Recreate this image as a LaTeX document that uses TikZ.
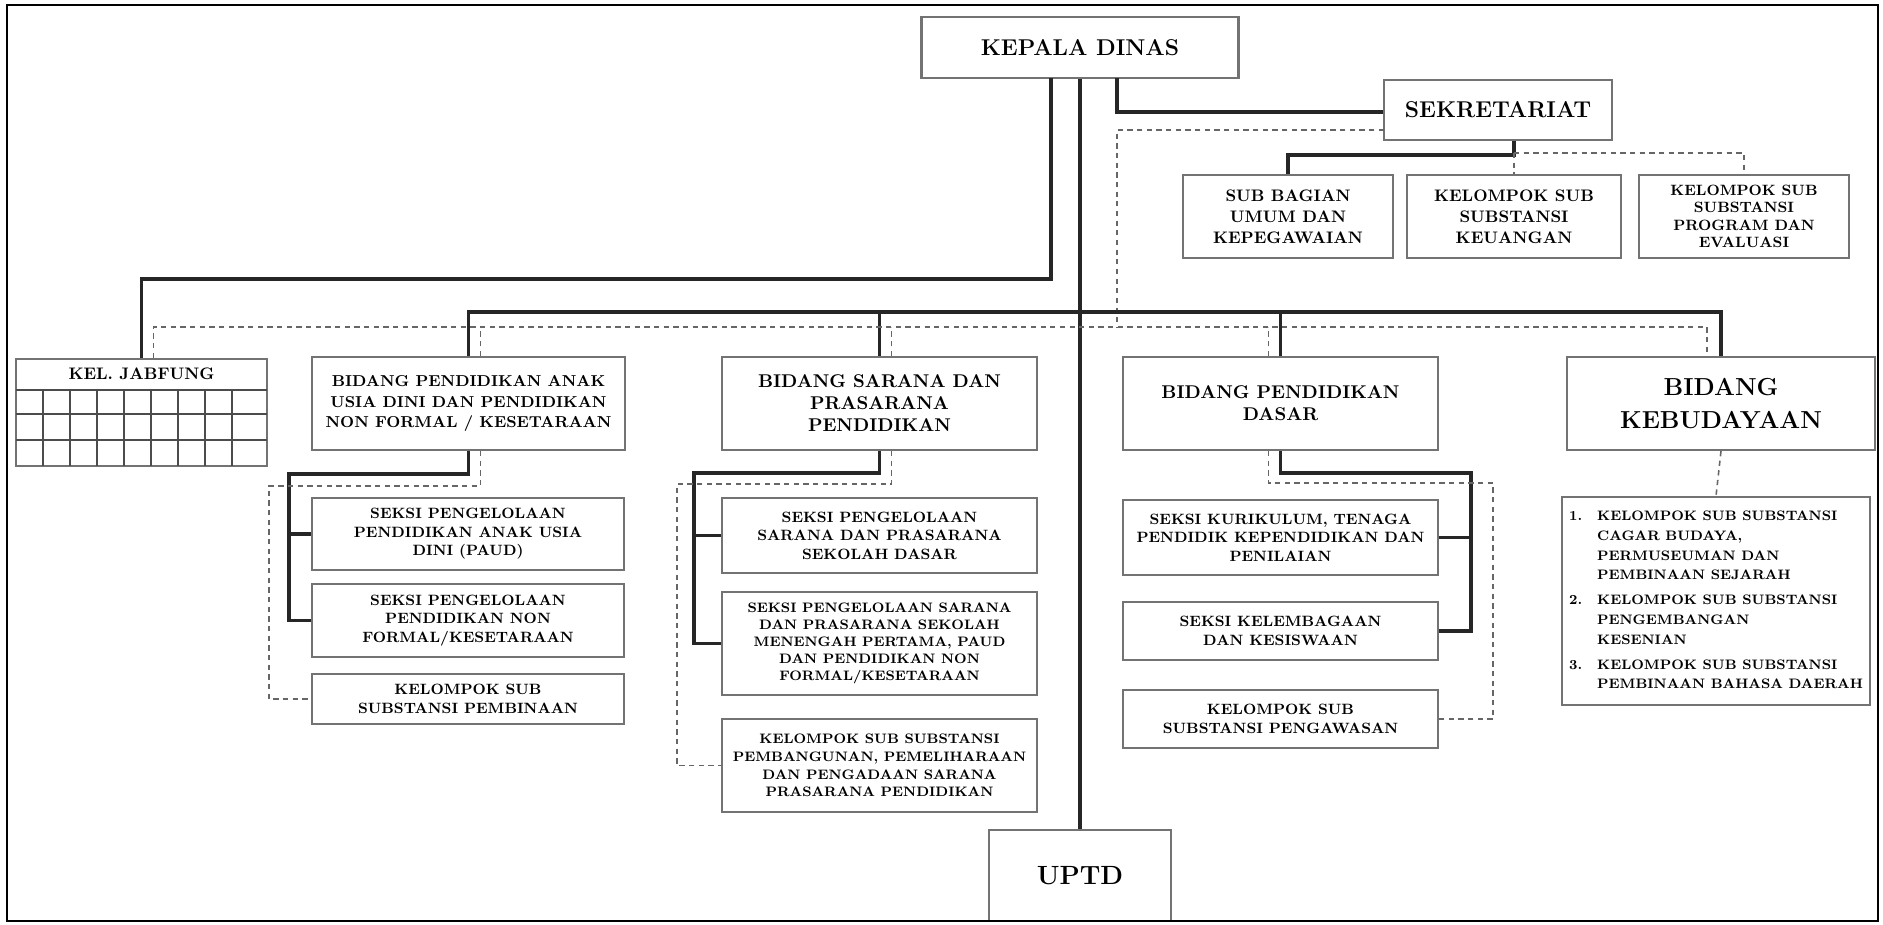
\documentclass[tikz,border=0pt]{standalone}
\usepackage{tikz}
\usetikzlibrary{calc}

\begin{document}
\begin{tikzpicture}[x=0.02cm,y=-0.02cm,
  kotak/.style={draw=black!55,line width=1.2pt,fill=white,inner sep=0pt,align=center,font=\bfseries\fontsize{8.5}{10.5}\selectfont},
  garis/.style={line width=1.8pt,black!85},
  putus/.style={line width=0.9pt,black!60,dash pattern=on 3pt off 2.5pt}]
\useasboundingbox (0,0) rectangle (1883,924);
\node[kotak,minimum width=6.34cm,minimum height=1.22cm,font=\bfseries\fontsize{13}{15}\selectfont] (kd) at (1080,47.5) {KEPALA DINAS};
\node[kotak,minimum width=4.56cm,minimum height=1.2cm,font=\bfseries\fontsize{13}{15}\selectfont] (sek) at (1498,110) {SEKRETARIAT};
\node[kotak,minimum width=4.2cm,minimum height=1.66cm,font=\bfseries\fontsize{9.5}{12}\selectfont] (sub1) at (1288,216.5) {SUB BAGIAN\\UMUM DAN\\KEPEGAWAIAN};
\node[kotak,minimum width=4.28cm,minimum height=1.66cm,font=\bfseries\fontsize{9.5}{12}\selectfont] (sub2) at (1514,216.5) {KELOMPOK SUB\\SUBSTANSI\\KEUANGAN};
\node[kotak,minimum width=4.2cm,minimum height=1.66cm,font=\bfseries\fontsize{8.5}{10}\selectfont] (sub3) at (1744,216.5) {KELOMPOK SUB\\SUBSTANSI\\PROGRAM DAN\\EVALUASI};
\node[kotak,minimum width=5.02cm,minimum height=2.14cm] (jabfung) at (141.5,412.5) {};
\node[font=\bfseries\fontsize{9.5}{11}\selectfont] (jabfungjudul) at (141.5,374) {KEL. JABFUNG};
\draw[black!70,line width=0.8pt] (16,390) -- (267,390) (16,414) -- (267,414) (16,440) -- (267,440)
  (43,390) -- (43,466) (70,390) -- (70,466) (97,390) -- (97,466) (124,390) -- (124,466)
  (151,390) -- (151,466) (178,390) -- (178,466) (205,390) -- (205,466) (232,390) -- (232,466);
\node[kotak,minimum width=6.26cm,minimum height=1.86cm,font=\bfseries\fontsize{9}{11.5}\selectfont] (paud) at (468.5,403.5) {BIDANG PENDIDIKAN ANAK\\USIA DINI DAN PENDIDIKAN\\NON FORMAL / KESETARAAN};
\node[kotak,minimum width=6.3cm,minimum height=1.86cm,font=\bfseries\fontsize{10.5}{12.5}\selectfont] (sarpras) at (879.5,403.5) {BIDANG SARANA DAN\\PRASARANA\\PENDIDIKAN};
\node[kotak,minimum width=6.3cm,minimum height=1.86cm,font=\bfseries\fontsize{10.5}{12.5}\selectfont] (dikdas) at (1280.5,403.5) {BIDANG PENDIDIKAN\\DASAR};
\node[kotak,minimum width=6.16cm,minimum height=1.86cm,font=\bfseries\fontsize{14}{19}\selectfont] (kebud) at (1721,403.5) {BIDANG\\KEBUDAYAAN};
\node[kotak,minimum width=6.24cm,minimum height=1.44cm] (p1) at (468,534) {SEKSI PENGELOLAAN\\PENDIDIKAN ANAK USIA\\DINI (PAUD)};
\node[kotak,minimum width=6.24cm,minimum height=1.46cm] (p2) at (468,620.5) {SEKSI PENGELOLAAN\\PENDIDIKAN NON\\FORMAL/KESETARAAN};
\node[kotak,minimum width=6.24cm,minimum height=1.0cm] (p3) at (468,699) {KELOMPOK SUB\\SUBSTANSI PEMBINAAN};
\node[kotak,minimum width=6.3cm,minimum height=1.5cm] (s1) at (879.5,535.5) {SEKSI PENGELOLAAN\\SARANA DAN PRASARANA\\SEKOLAH DASAR};
\node[kotak,minimum width=6.3cm,minimum height=2.06cm,font=\bfseries\fontsize{7.8}{9.6}\selectfont] (s2) at (879.5,643.5) {SEKSI PENGELOLAAN SARANA\\DAN PRASARANA SEKOLAH\\MENENGAH PERTAMA, PAUD\\DAN PENDIDIKAN NON\\FORMAL/KESETARAAN};
\node[kotak,minimum width=6.3cm,minimum height=1.86cm,font=\bfseries\fontsize{7.8}{10}\selectfont] (s3) at (879.5,765.5) {KELOMPOK SUB SUBSTANSI\\PEMBANGUNAN, PEMELIHARAAN\\DAN PENGADAAN SARANA\\PRASARANA PENDIDIKAN};
\node[kotak,minimum width=6.3cm,minimum height=1.5cm] (d1) at (1280.5,537.5) {SEKSI KURIKULUM, TENAGA\\PENDIDIK KEPENDIDIKAN DAN\\PENILAIAN};
\node[kotak,minimum width=6.3cm,minimum height=1.16cm] (d2) at (1280.5,631) {SEKSI KELEMBAGAAN\\DAN KESISWAAN};
\node[kotak,minimum width=6.3cm,minimum height=1.16cm] (d3) at (1280.5,719) {KELOMPOK SUB\\SUBSTANSI PENGAWASAN};
\node[kotak,minimum width=6.16cm,minimum height=4.16cm,font=\bfseries\fontsize{7.8}{11.2}\selectfont] (budaya) at (1716,601) {\begin{tabular}{@{}l@{\hspace{0.3cm}}l@{}}
1. & KELOMPOK SUB SUBSTANSI\\ & CAGAR BUDAYA,\\ & PERMUSEUMAN DAN\\ & PEMBINAAN SEJARAH\\[3pt]
2. & KELOMPOK SUB SUBSTANSI\\ & PENGEMBANGAN\\ & KESENIAN\\[3pt]
3. & KELOMPOK SUB SUBSTANSI\\ & PEMBINAAN BAHASA DAERAH
\end{tabular}};
\node[kotak,minimum width=3.64cm,minimum height=1.82cm,font=\bfseries\fontsize{15}{17}\selectfont] (uptd) at (1080,875.5) {UPTD};
\coordinate (kdkiri) at (1051,78);
\coordinate (belokkiri) at (1051,279);
\coordinate (kdkanan) at (1117,78);
\coordinate (belokkanan) at (1117,112);
\coordinate (sekkiri) at (1384,130);
\coordinate (putuskd) at (1117,130);
\coordinate (bus) at (0,312);
\coordinate (busputus) at (0,328);
\path[draw,garis] (kd.south) -- (uptd.north);
\path[draw,garis] (kdkiri) -- (belokkiri) -| (jabfung.north);
\path[draw,garis] (kdkanan) -- (belokkanan) -- (belokkanan -| sek.west);
\path[draw,putus] (sekkiri) -- (putuskd) -- (putuskd |- busputus);
\path[draw,garis] (paud.north) |- (bus -| kebud.north) -- (kebud.north);
\path[draw,garis] (sarpras.north) -- (sarpras.north |- bus);
\path[draw,garis] (dikdas.north) -- (dikdas.north |- bus);
\path[draw,putus] ($(jabfung.north)+(12,0)$) -- ++(0,-31) -| ($(kebud.north)+(-14,0)$);
\path[draw,putus] ($(paud.north)+(12,0)$) -- ++(0,-29);
\path[draw,putus] ($(sarpras.north)+(12,0)$) -- ++(0,-29);
\path[draw,putus] ($(dikdas.north)+(-12,0)$) -- ++(0,-29);
\path[draw,garis] (sek.south -| sub2.north) -- ++(0,14) -| (sub1.north);
\path[draw,putus] ($(sub2.north)+(0,-21)$) -- (sub2.north);
\path[draw,putus] ($(sub2.north)+(0,-21)$) -| (sub3.north);
\path[draw,garis] (paud.south) -- ++(0,23) -| ($(p2.west)+(-22,0)$) -- (p2.west);
\path[draw,garis] ($(p1.west)+(-22,0)$) -- (p1.west);
\path[draw,putus] ($(paud.south)+(12,0)$) -- ++(0,35) -| ($(p3.west)+(-42,0)$) -- (p3.west);
\path[draw,garis] (sarpras.south) -- ++(0,22) -| ($(s2.west)+(-27,0)$) -- (s2.west);
\path[draw,garis] ($(s1.west)+(-27,0)$) -- (s1.west);
\path[draw,putus] ($(sarpras.south)+(12,0)$) -- ++(0,33) -| ($(s3.west)+(-44,0)$) -- (s3.west);
\path[draw,garis] (dikdas.south) -- ++(0,22) -| ($(d2.east)+(32,0)$) -- (d2.east);
\path[draw,garis] ($(d1.east)+(32,0)$) -- (d1.east);
\path[draw,putus] ($(dikdas.south)+(-12,0)$) -- ++(0,32) -| ($(d3.east)+(54,0)$) -- (d3.east);
\path[draw,putus] (kebud.south) -- (budaya.north);
\draw[line width=1.6pt] (7,5) rectangle (1878,921);
\end{tikzpicture}
\end{document}
